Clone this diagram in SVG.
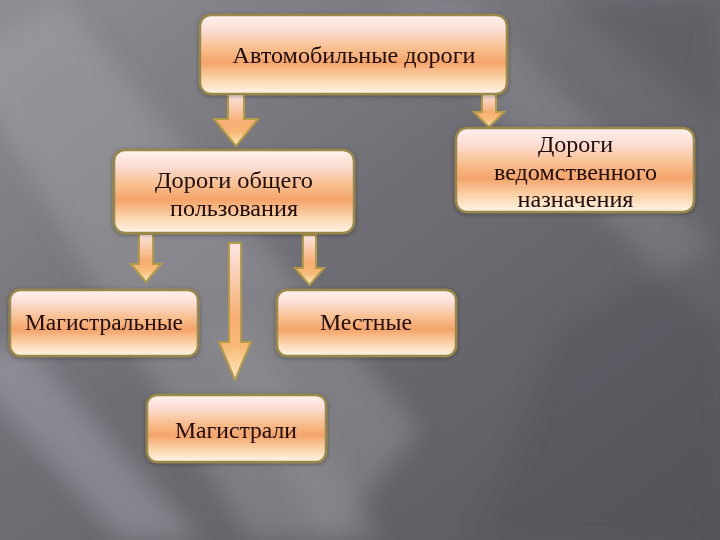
<svg xmlns="http://www.w3.org/2000/svg" width="720" height="540" viewBox="0 0 720 540">
  <defs>
    <linearGradient id="bg" x1="0" y1="0" x2="1" y2="1">
      <stop offset="0" stop-color="#8e8d94"/>
      <stop offset="0.45" stop-color="#6f6e75"/>
      <stop offset="1" stop-color="#57565c"/>
    </linearGradient>
    <linearGradient id="boxFill" x1="0" y1="0" x2="0" y2="1">
      <stop offset="0" stop-color="#fef2ee"/>
      <stop offset="0.2" stop-color="#fcdcd2"/>
      <stop offset="0.42" stop-color="#f8bf8f"/>
      <stop offset="0.6" stop-color="#f5a46a"/>
      <stop offset="0.82" stop-color="#fbd6ae"/>
      <stop offset="1" stop-color="#fef4e8"/>
    </linearGradient>
    <linearGradient id="arrowFill" x1="0" y1="0" x2="0" y2="1">
      <stop offset="0" stop-color="#fde6e6"/>
      <stop offset="0.55" stop-color="#f6ad72"/>
      <stop offset="0.75" stop-color="#f7b977"/>
      <stop offset="1" stop-color="#fdebc4"/>
    </linearGradient>
    <filter id="soft" x="-50%" y="-50%" width="200%" height="200%">
      <feGaussianBlur stdDeviation="12"/>
    </filter>
    <filter id="shadow" x="-10%" y="-10%" width="120%" height="130%">
      <feGaussianBlur in="SourceAlpha" stdDeviation="2"/>
      <feOffset dx="0" dy="1" result="b"/>
      <feFlood flood-color="#000" flood-opacity="0.35"/>
      <feComposite in2="b" operator="in"/>
      <feMerge><feMergeNode/><feMergeNode in="SourceGraphic"/></feMerge>
    </filter>
  </defs>
  <style>
    .box { fill: url(#boxFill); stroke: #9a8848; stroke-width: 2.5; filter: url(#shadow); }
    .arrow { fill: url(#arrowFill); stroke: #b39c45; stroke-width: 2; stroke-linejoin: miter; }
    .lbl { font-family: "Liberation Serif", "Times New Roman", serif; font-size: 23px; fill: #1e0d0b; text-anchor: middle; }
  </style>

  <!-- background -->
  <rect x="0" y="0" width="720" height="540" fill="url(#bg)"/>
  <g filter="url(#soft)" opacity="0.6">
    <polygon points="-40,60 60,0 420,430 330,540 250,540" fill="#b4b3ba" opacity="0.5"/>
    <polygon points="-40,360 20,340 200,540 120,540" fill="#aeadb5" opacity="0.7"/>
    <polygon points="200,330 250,320 380,540 320,540" fill="#a09fa7" opacity="0.7"/>
    <polygon points="380,0 470,0 720,250 720,330" fill="#a4a3ab" opacity="0.45"/>
    <polygon points="560,0 720,0 720,120" fill="#4e4d53" opacity="0.6"/>
    <polygon points="560,330 720,240 720,540 480,540" fill="#4d4c52" opacity="0.5"/>
  </g>

  <!-- connectors -->
  <g id="connectors">
    <polygon class="arrow" points="228,94 244,94 244,119 258,119 236,146 214,119 228,119"/>
    <polygon class="arrow" points="482,94 496,94 496,112 504,112 489,127 474,112 482,112"/>
    <polygon class="arrow" points="139,234 153,234 153,264 161,264 146,282 131,264 139,264"/>
    <polygon class="arrow" points="229,243 241,243 241,342 251,342 235,380 219,342 229,342"/>
    <polygon class="arrow" points="303,235 316,235 316,268 324,268 309.5,285 295,268 303,268"/>
  </g>

  <!-- nodes -->
  <g id="node-avto">
    <rect class="box" x="200" y="15" width="307" height="79" rx="11"/>
    <text class="lbl" x="354" y="63" textLength="243" lengthAdjust="spacingAndGlyphs">Автомобильные дороги</text>
  </g>
  <g id="node-vedom">
    <rect class="box" x="456" y="128" width="238" height="84" rx="11"/>
    <text class="lbl" x="575.5" y="152" textLength="75" lengthAdjust="spacingAndGlyphs">Дороги</text>
    <text class="lbl" x="575.5" y="180" textLength="163" lengthAdjust="spacingAndGlyphs">ведомственного</text>
    <text class="lbl" x="575.5" y="207" textLength="116" lengthAdjust="spacingAndGlyphs">назначения</text>
  </g>
  <g id="node-obsh">
    <rect class="box" x="114" y="150" width="240" height="83" rx="11"/>
    <text class="lbl" x="234" y="188" textLength="158" lengthAdjust="spacingAndGlyphs">Дороги общего</text>
    <text class="lbl" x="234" y="216" textLength="128" lengthAdjust="spacingAndGlyphs">пользования</text>
  </g>
  <g id="node-magistralnye">
    <rect class="box" x="10" y="290" width="188" height="66" rx="10"/>
    <text class="lbl" x="104" y="330" textLength="158" lengthAdjust="spacingAndGlyphs">Магистральные</text>
  </g>
  <g id="node-mestnye">
    <rect class="box" x="277" y="290" width="179" height="66" rx="10"/>
    <text class="lbl" x="366" y="330" textLength="92" lengthAdjust="spacingAndGlyphs">Местные</text>
  </g>
  <g id="node-magistrali">
    <rect class="box" x="147" y="395" width="179" height="67" rx="10"/>
    <text class="lbl" x="236" y="438" textLength="122" lengthAdjust="spacingAndGlyphs">Магистрали</text>
  </g>
</svg>
